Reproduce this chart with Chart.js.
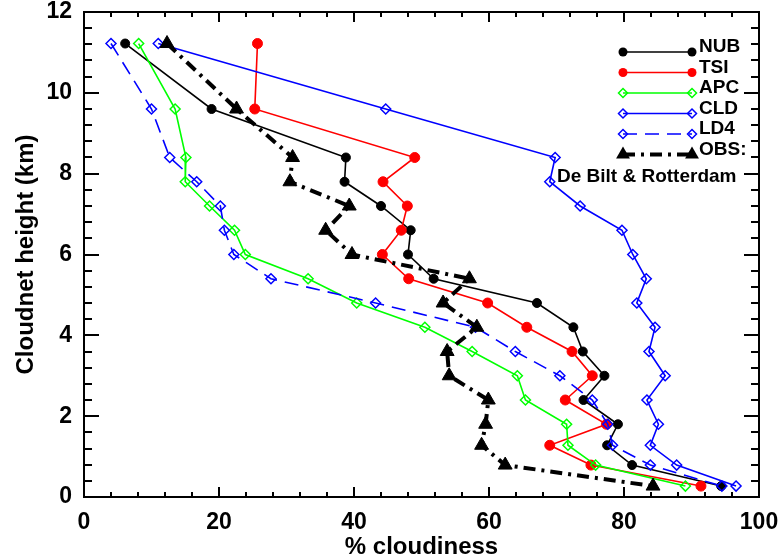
<!DOCTYPE html>
<html>
<head>
    <title>Cloudiness profiles</title>
    <script src="https://cdn.jsdelivr.net/npm/chart.js"></script>
</head>
<style>
    html, body { margin: 0; padding: 0; background: #fff; }
    #wrap { width: 783px; height: 559px; }
</style>
<body>
    <div id="wrap">
        <canvas id="cloudChart" width="783" height="559"></canvas>
    </div>
    <script>
        // heights (km) of the Cloudnet levels
        const heights = [11.22, 9.6, 8.4, 7.8, 7.2, 6.6, 6.0, 5.4, 4.8, 4.2, 3.6, 3.0, 2.4, 1.8, 1.28, 0.79, 0.27];

        // % cloudiness per level, top to bottom
        const nub = [6.1, 18.9, 38.8, 38.6, 44.0, 48.4, 48.0, 51.8, 67.1, 72.5, 73.9, 77.1, 74.0, 79.1, 77.5, 81.2, 94.4];
        const tsi = [25.7, 25.3, 49.0, 44.3, 47.9, 47.0, 44.2, 48.1, 59.8, 65.6, 72.3, 75.3, 71.3, 77.4, 69.0, 75.1, 91.4];
        const apc = [8.1, 13.5, 15.1, 15.0, 18.6, 22.3, 23.9, 33.2, 40.4, 50.5, 57.5, 64.2, 65.4, 71.5, 71.7, 75.8, 89.1];
        const cld = [11.0, 44.7, 69.8, 69.0, 73.5, 79.7, 81.3, 83.3, 81.9, 84.6, 83.7, 86.1, 83.4, 85.1, 83.9, 87.8, 96.6];
        const ld4 = [4.0, 10.0, 12.7, 16.7, 20.2, 20.8, 22.2, 27.7, 43.2, 58.0, 63.9, 70.5, 75.3, 77.6, 78.3, 83.9, 94.5];
        const obs = [12.3, 22.6, 30.9, 30.5, 39.3, 35.8, 39.7, 57.1, 53.2, 58.2, 53.8, 54.1, 59.9, 59.5, 58.9, 62.4, 84.3];

        const seriesNames = ['NUB', 'TSI', 'APC', 'CLD', 'LD4', 'OBS:'];
        const xTicks = [0, 20, 40, 60, 80, 100];
        const yTicks = [0, 2, 4, 6, 8, 10, 12];

        const FONT = "'Liberation Sans', Arial, Helvetica, sans-serif";

        function pts(values) {
            return values.map((v, i) => ({ x: v, y: heights[i] }));
        }

        function marker(ctx, style, x, y, r, color, lw) {
            ctx.save();
            ctx.beginPath();
            if (style === 'circle') {
                ctx.arc(x, y, r, 0, Math.PI * 2);
                ctx.fillStyle = color;
                ctx.fill();
            } else if (style === 'rectRot') {
                ctx.moveTo(x - r, y); ctx.lineTo(x, y - r); ctx.lineTo(x + r, y); ctx.lineTo(x, y + r);
                ctx.closePath();
                ctx.setLineDash([]);
                ctx.lineWidth = lw;
                ctx.strokeStyle = color;
                ctx.stroke();
            } else if (style === 'triangle') {
                ctx.moveTo(x, y - r);
                ctx.lineTo(x + r * 0.866, y + r / 2);
                ctx.lineTo(x - r * 0.866, y + r / 2);
                ctx.closePath();
                ctx.fillStyle = color;
                ctx.fill();
            }
            ctx.restore();
        }

        // inward ticks on all four sides plus the box
        const framePlugin = {
            id: 'frame',
            afterDraw(chart) {
                const { ctx, chartArea: a, scales: { x, y } } = chart;
                ctx.save();
                ctx.strokeStyle = '#000';
                ctx.lineWidth = 2;
                ctx.setLineDash([]);
                ctx.beginPath();
                for (let i = 0; i <= 25; i++) {
                    const px = Math.round(x.getPixelForValue(i * 4));
                    const len = i % 5 === 0 ? 10 : 5;
                    ctx.moveTo(px, a.bottom); ctx.lineTo(px, a.bottom - len);
                    ctx.moveTo(px, a.top); ctx.lineTo(px, a.top + len);
                }
                for (let i = 0; i <= 30; i++) {
                    const py = Math.round(y.getPixelForValue(i * 0.4));
                    const len = i % 5 === 0 ? 15 : 8;
                    ctx.moveTo(a.left, py); ctx.lineTo(a.left + len, py);
                    ctx.moveTo(a.right, py); ctx.lineTo(a.right - len, py);
                }
                ctx.stroke();
                ctx.strokeRect(a.left, a.top, a.right - a.left, a.bottom - a.top);
                ctx.restore();
            }
        };

        // legend in the upper right corner: line with a marker at both ends
        const legendPlugin = {
            id: 'cornerLegend',
            afterDraw(chart) {
                const ctx = chart.ctx;
                const x0 = 623, x1 = 692, top = 52, step = 20.5;
                chart.data.datasets.forEach((ds, i) => {
                    const yy = top + i * step;
                    ctx.save();
                    ctx.strokeStyle = ds.borderColor;
                    ctx.lineWidth = ds.borderWidth;
                    ctx.setLineDash(ds.borderDash || []);
                    ctx.beginPath();
                    ctx.moveTo(x0, yy); ctx.lineTo(x1, yy);
                    ctx.stroke();
                    ctx.restore();
                    const r = ds.pointStyle === 'triangle' ? 8 : 4.5;
                    marker(ctx, ds.pointStyle, x0, yy, r, ds.pointBorderColor, 1.5);
                    marker(ctx, ds.pointStyle, x1, yy, r, ds.pointBorderColor, 1.5);
                    ctx.save();
                    ctx.fillStyle = '#000';
                    ctx.font = 'bold 19px ' + FONT;
                    ctx.textBaseline = 'alphabetic';
                    ctx.fillText(ds.label, 699, yy);
                    ctx.restore();
                });
                ctx.save();
                ctx.fillStyle = '#000';
                ctx.font = 'bold 19px ' + FONT;
                ctx.fillText('De Bilt & Rotterdam', 557, 182);
                ctx.restore();
            }
        };

        function series(label, values, color, opts) {
            return Object.assign({
                label: label,
                data: pts(values),
                showLine: true,
                borderColor: color,
                borderWidth: 1.6,
                pointBorderColor: color,
                pointBackgroundColor: color,
                pointRadius: 4.5,
                pointBorderWidth: 1,
                pointStyle: 'circle',
                tension: 0
            }, opts);
        }

        const datasets = [
            series(seriesNames[0], nub, '#000000', { order: 6 }),
            series(seriesNames[1], tsi, '#ff0000', { order: 5, pointRadius: 5 }),
            series(seriesNames[2], apc, '#00ff00', { order: 4, pointStyle: 'rectRot', pointRadius: 5, pointBackgroundColor: 'rgba(0,0,0,0)', pointBorderWidth: 1.5 }),
            series(seriesNames[3], cld, '#0000ff', { order: 3, pointStyle: 'rectRot', pointRadius: 5, pointBackgroundColor: 'rgba(0,0,0,0)', pointBorderWidth: 1.5 }),
            series(seriesNames[4], ld4, '#0000ff', { order: 2, pointStyle: 'rectRot', pointRadius: 5, pointBackgroundColor: 'rgba(0,0,0,0)', pointBorderWidth: 1.5, borderDash: [14, 8] }),
            series(seriesNames[5], obs, '#000000', { order: 1, pointStyle: 'triangle', pointRadius: 8, borderWidth: 4, borderDash: [12, 6, 3, 6] })
        ];

        const ctx = document.getElementById('cloudChart').getContext('2d');
        const chart = new Chart(ctx, {
            type: 'scatter',
            data: { datasets: datasets },
            plugins: [framePlugin, legendPlugin],
            options: {
                responsive: false,
                animation: false,
                layout: { padding: { top: 12, right: 24, bottom: 0, left: 0 } },
                plugins: {
                    legend: { display: false },
                    tooltip: { enabled: false }
                },
                scales: {
                    x: {
                        type: 'linear',
                        min: 0,
                        max: 100,
                        afterBuildTicks: (scale) => { scale.ticks = xTicks.map(v => ({ value: v })); },
                        afterFit: (scale) => { scale.height = 62; scale.paddingLeft = 0; scale.paddingRight = 0; },
                        grid: { display: false },
                        border: { display: false },
                        ticks: {
                            color: '#000',
                            padding: 4,
                            maxRotation: 0,
                            font: { family: FONT, size: 23, weight: 'bold' }
                        },
                        title: {
                            display: true,
                            text: '% cloudiness',
                            color: '#000',
                            padding: { top: 0, bottom: 0 },
                            font: { family: FONT, size: 24, weight: 'bold', lineHeight: 1.0 }
                        }
                    },
                    y: {
                        type: 'linear',
                        min: 0,
                        max: 12,
                        afterBuildTicks: (scale) => { scale.ticks = yTicks.map(v => ({ value: v })); },
                        afterFit: (scale) => { scale.width = 84; scale.paddingTop = 0; scale.paddingBottom = 0; },
                        grid: { display: false },
                        border: { display: false },
                        ticks: {
                            color: '#000',
                            padding: 4,
                            font: { family: FONT, size: 23, weight: 'bold' }
                        },
                        title: {
                            display: true,
                            text: 'Cloudnet height (km)',
                            color: '#000',
                            padding: { top: 12, bottom: 0 },
                            font: { family: FONT, size: 24, weight: 'bold', lineHeight: 1.2 }
                        }
                    }
                }
            }
        });
    </script>
</body>
</html>
